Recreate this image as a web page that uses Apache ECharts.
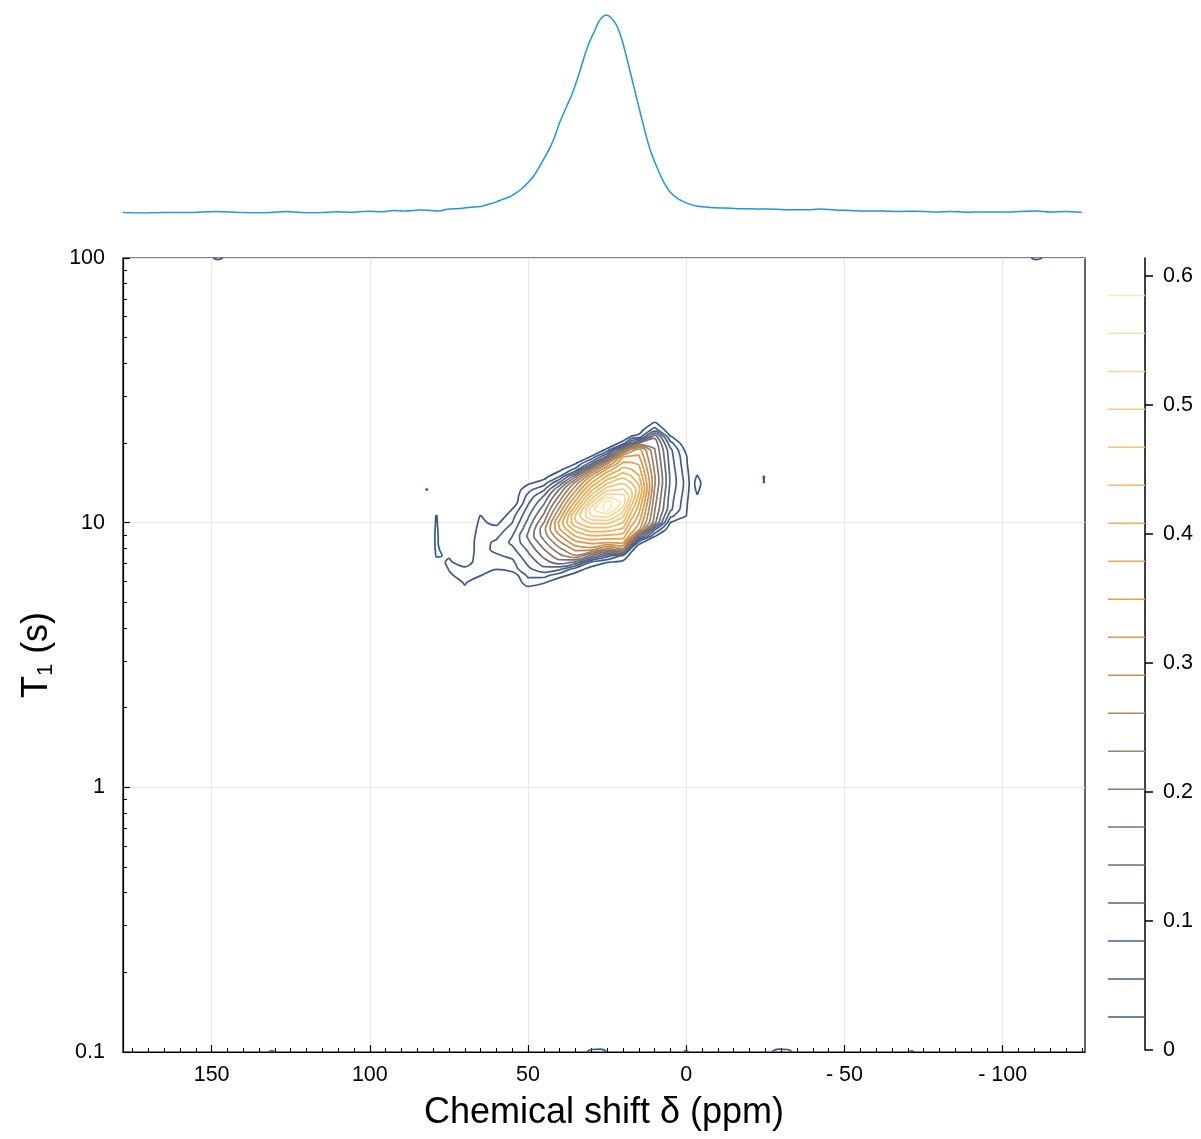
<!DOCTYPE html>
<html>
<head>
<meta charset="utf-8">
<script src="https://cdn.jsdelivr.net/npm/echarts@6/dist/echarts.min.js"></script>
<style>
html,body{margin:0;padding:0;background:#ffffff;}
#chart{width:1201px;height:1139px;}
</style>
</head>
<body>
<div id="chart"></div>
<script>
// ---------------- DATA ----------------
const xMajorTicks = [150, 100, 50, 0, -50, -100];
const xMinorTicks = [175,170,165,160,155,150,145,140,135,130,125,120,115,110,105,100,95,90,85,80,75,70,65,60,55,50,45,40,35,30,25,20,15,10,5,0,-5,-10,-15,-20,-25,-30,-35,-40,-45,-50,-55,-60,-65,-70,-75,-80,-85,-90,-95,-100,-105,-110,-115,-120,-125];
const yMajorTicks = [0.1, 1, 10, 100];
const yMinorTicks = [0.2,0.3,0.4,0.5,0.6,0.7,0.8,0.9,2,3,4,5,6,7,8,9,20,30,40,50,60,70,80,90];
const colorbarTicks = [0, 0.1, 0.2, 0.3, 0.4, 0.5, 0.6];

// contour levels
const contourLevels = [0.0256,0.0550,0.0845,0.1139,0.1434,0.1728,0.2022,0.2317,0.2611,0.2906,0.3200,0.3495,0.3789,0.4083,0.4378,0.4672,0.4967,0.5261,0.5556,0.5850];

// 1D projection (top trace): chemical shift (ppm) and relative intensity
const spectrumPpm = [178.1,172.4,164.8,156.6,148.7,140.8,132.6,126.6,121.9,116.5,110.5,106.1,100.4,96.6,92.5,88.7,84.3,80.8,78.3,75.2,71.4,68.2,65.0,62.2,60.0,58.1,55.9,54.0,52.1,50.2,48.0,46.1,44.5,42.9,41.4,40.1,37.9,36.0,33.8,31.9,30.3,29.0,27.8,26.5,25.3,24.0,22.7,21.8,20.5,18.9,17.4,15.8,14.2,12.9,11.4,9.8,8.2,6.9,5.1,2.8,0,-3.2,-7.6,-12.0,-16.4,-22.4,-28.4,-32.8,-37.6,-42.6,-47.0,-51.8,-56.5,-61.3,-67.6,-72.6,-78.6,-83.4,-88.7,-94.4,-101.0,-105.5,-110.8,-114.9,-119.7,-125.0];
const spectrumIntensity = [0.002,0.000,0.002,0.003,0.008,0.003,0.001,0.008,0.003,0.001,0.006,0.004,0.009,0.006,0.012,0.010,0.015,0.013,0.010,0.020,0.023,0.029,0.033,0.045,0.056,0.069,0.081,0.099,0.121,0.150,0.192,0.242,0.288,0.335,0.394,0.453,0.535,0.605,0.707,0.807,0.875,0.918,0.962,0.990,1.000,0.990,0.965,0.941,0.884,0.789,0.692,0.587,0.485,0.403,0.318,0.251,0.192,0.150,0.106,0.074,0.051,0.035,0.028,0.025,0.022,0.020,0.019,0.016,0.016,0.020,0.015,0.013,0.010,0.010,0.008,0.009,0.005,0.008,0.004,0.005,0.005,0.008,0.010,0.005,0.008,0.004];

// 2D intensity map: one column per chemical shift (ppm); rows at log10(T1 / s)
const gridPpm = [88,85,82,79,75,70,65,60,55,50,45,40,35,30,25,20,17.5,15,10,5,0,-1.5,-3.5,-6,-22,-24.5,-27];
const gridLogT1 = [0.700,0.725,0.750,0.775,0.800,0.825,0.850,0.875,0.900,0.925,0.950,0.975,1.000,1.025,1.050,1.075,1.100,1.125,1.150,1.175,1.200,1.225,1.250,1.275,1.300,1.325,1.350,1.375,1.400,1.425,1.450];
const gridValues = [
  /*88*/  [0,0,0,0,0,0,0,0,0,0, 0,0,0,0,0,0,0,0,0,0, 0,0,0,0,0,0,0,0,0,0, 0],
  /*85*/  [0,0,0,0,0,0,0,0,0,0, 0,0,0,0,0,0,0,0,0,0, 0,0,0,0,0,0,0,0,0,0, 0],
  /*82*/  [0,0,0,0,0,0,0,0,0,0, 0,0,0,0,0,0,0,0.028,0,0, 0,0,0,0,0,0,0,0,0,0, 0],
  /*79*/  [0,0,0,0,0,0,0.020,0.027,0.029,0.030, 0.030,0.029,0.028,0.027,0.015,0,0,0,0,0, 0,0,0,0,0,0,0,0,0,0, 0],
  /*75*/  [0,0,0,0,0.022,0.027,0.028,0.024,0.015,0, 0,0,0,0,0,0,0,0,0,0, 0,0,0,0,0,0,0,0,0,0, 0],
  /*70*/  [0,0,0.020,0.030,0.034,0.029,0.018,0.010,0,0, 0,0,0,0,0,0,0,0,0,0, 0,0,0,0,0,0,0,0,0,0, 0],
  /*65*/  [0,0,0,0,0.026,0.030,0.034,0.038,0.043,0.043, 0.039,0.035,0.031,0.027,0.003,0,0,0,0,0, 0,0,0,0,0,0,0,0,0,0, 0],
  /*60*/  [0,0,0,0,0,0.027,0.038,0.051,0.063,0.061, 0.048,0.036,0.018,0,0,0,0,0,0,0, 0,0,0,0,0,0,0,0,0,0, 0],
  /*55*/  [0,0,0,0,0.004,0.041,0.048,0.062,0.077,0.091, 0.084,0.069,0.055,0.044,0.026,0,0,0,0,0, 0,0,0,0,0,0,0,0,0,0, 0],
  /*50*/  [0,0,0.016,0.042,0.061,0.078,0.092,0.106,0.120,0.135, 0.149,0.137,0.123,0.109,0.095,0.080,0.064,0.045,0.020,0, 0,0,0,0,0,0,0,0,0,0, 0],
  /*45*/  [0,0,0.003,0.030,0.065,0.105,0.130,0.151,0.173,0.194, 0.215,0.223,0.202,0.180,0.159,0.138,0.116,0.080,0.040,0.013, 0,0,0,0,0,0,0,0,0,0, 0],
  /*40*/  [0,0,0,0.007,0.034,0.092,0.159,0.194,0.225,0.256, 0.287,0.318,0.331,0.301,0.270,0.239,0.208,0.177,0.121,0.054, 0.019,0,0,0,0,0,0,0,0,0, 0],
  /*35*/  [0,0,0,0,0.014,0.040,0.137,0.229,0.270,0.311, 0.352,0.393,0.434,0.445,0.404,0.363,0.323,0.282,0.241,0.164, 0.067,0.021,0,0,0,0,0,0,0,0, 0],
  /*30*/  [0,0,0,0,0,0.015,0.045,0.165,0.279,0.329, 0.377,0.426,0.475,0.525,0.546,0.497,0.448,0.399,0.350,0.301, 0.219,0.098,0.027,0.001,0,0,0,0,0,0, 0],
  /*25*/  [0,0,0,0,0,0.001,0.026,0.097,0.225,0.321, 0.373,0.424,0.476,0.535,0.598,0.604,0.545,0.486,0.434,0.383, 0.331,0.251,0.123,0.031,0.006,0,0,0,0,0, 0],
  /*20*/  [0,0,0,0,0,0,0.017,0.049,0.255,0.328, 0.365,0.401,0.438,0.474,0.510,0.547,0.537,0.500,0.464,0.428, 0.391,0.355,0.318,0.196,0.034,0.010,0,0,0,0, 0],
  /*17.5*/[0,0,0,0,0,0,0,0.014,0.038,0.186, 0.308,0.337,0.366,0.395,0.424,0.453,0.482,0.469,0.440,0.411, 0.382,0.353,0.324,0.274,0.117,0.027,0.003,0,0,0, 0],
  /*15*/  [0,0,0,0,0,0,0,0,0.007,0.033, 0.161,0.303,0.323,0.342,0.361,0.381,0.400,0.419,0.401,0.382, 0.363,0.344,0.324,0.305,0.174,0.035,0.009,0,0,0, 0],
  /*10*/  [0,0,0,0,0,0,0,0,0,0.003, 0.028,0.090,0.184,0.197,0.205,0.213,0.221,0.229,0.237,0.235, 0.227,0.220,0.212,0.204,0.196,0.165,0.070,0.030,0.005,0, 0],
  /*5*/   [0,0,0,0,0,0,0,0,0,0, 0,0,0.024,0.062,0.091,0.095,0.099,0.104,0.108,0.108, 0.104,0.100,0.096,0.092,0.066,0.028,0,0,0,0, 0],
  /*0*/   [0,0,0,0,0,0,0,0,0,0, 0,0,0,0.026,0.030,0.034,0.038,0.042,0.044,0.040, 0.036,0.032,0.029,0.016,0,0,0,0,0,0, 0],
  /*-1.5*/[0,0,0,0,0,0,0,0,0,0, 0,0,0,0,0,0,0.008,0.012,0.014,0.012, 0.008,0,0,0,0,0,0,0,0,0, 0],
  /*-3.5*/[0,0,0,0,0,0,0,0,0,0, 0,0,0,0,0,0,0.024,0.031,0.034,0.028, 0.012,0,0,0,0,0,0,0,0,0, 0],
  /*-6*/  [0,0,0,0,0,0,0,0,0,0, 0,0,0,0,0,0,0,0.010,0.015,0, 0,0,0,0,0,0,0,0,0,0, 0],
  /*-22*/ [0,0,0,0,0,0,0,0,0,0, 0,0,0,0,0,0,0,0,0,0, 0,0,0,0,0,0,0,0,0,0, 0],
  /*-24.5*/[0,0,0,0,0,0,0,0,0,0, 0,0,0,0,0,0,0,0,0.027,0.027, 0,0,0,0,0,0,0,0,0,0, 0],
  /*-27*/ [0,0,0,0,0,0,0,0,0,0, 0,0,0,0,0,0,0,0,0,0, 0,0,0,0,0,0,0,0,0,0, 0]
];

// small contour fragments at the T1 = 0.1 s and 100 s edges: [ppm, T1]
const edgeFragments = [
  [[31.5,0.1],[30,0.1022],[27,0.1025],[25,0.1]],
  [[-27,0.1],[-29,0.1025],[-32,0.1022],[-33.5,0.1]],
  [[132,0.1],[131,0.101],[130,0.1]],
  [[0.8,0.1],[0,0.1012],[-0.8,0.1]],
  [[-70.5,0.1],[-71.2,0.101],[-72,0.1]],
  [[149.5,100],[148,98.6],[146.5,100]],
  [[-109,100],[-110.5,98.6],[-112.5,100]]
];

// ---------------- STYLE ----------------
const FONT = '"Liberation Sans", Arial, Helvetica, sans-serif';
const TEXT = '#000000';
const cmapStops = [
  [0.00,'#3a5a8c'],[0.10,'#465f8a'],[0.18,'#5d6680'],[0.26,'#787070'],
  [0.34,'#957b66'],[0.42,'#b5875a'],[0.50,'#d7944a'],[0.58,'#eb9f45'],
  [0.68,'#f1b058'],[0.78,'#f5c274'],[0.88,'#f8d48f'],[1.00,'#fce9b4']
];
function hex2rgb(h){return [parseInt(h.slice(1,3),16),parseInt(h.slice(3,5),16),parseInt(h.slice(5,7),16)];}
function cmap(t){
  for(let i=0;i<cmapStops.length-1;i++){
    const a=cmapStops[i], b=cmapStops[i+1];
    if(t<=b[0]){
      const f=(t-a[0])/(b[0]-a[0]);
      const ca=hex2rgb(a[1]), cb=hex2rgb(b[1]);
      const c=ca.map((v,k)=>Math.round(v+(cb[k]-v)*f));
      return 'rgb('+c.join(',')+')';
    }
  }
  return cmapStops[cmapStops.length-1][1];
}
const levelColors = contourLevels.map((_,k)=>cmap(k/(contourLevels.length-1)));

// ---------------- CONTOURING (marching squares on the grid above) ----------------
function contourLines(level){
  const nx=gridPpm.length, ny=gridLogT1.length;
  const pts={}, adj={};
  function ep(key,xa,ya,va,xb,yb,vb){
    if(!pts[key]){const t=(level-va)/(vb-va); pts[key]=[xa+t*(xb-xa), ya+t*(yb-ya)];}
    return key;
  }
  function link(a,b){(adj[a]=adj[a]||[]).push(b);(adj[b]=adj[b]||[]).push(a);}
  for(let i=0;i<nx-1;i++){
    for(let j=0;j<ny-1;j++){
      const v0=gridValues[i][j], v1=gridValues[i+1][j], v2=gridValues[i+1][j+1], v3=gridValues[i][j+1];
      const code=(v0>level?1:0)|(v1>level?2:0)|(v2>level?4:0)|(v3>level?8:0);
      if(code===0||code===15) continue;
      const x0=gridPpm[i], x1=gridPpm[i+1], y0=gridLogT1[j], y1=gridLogT1[j+1];
      const E={
        B:()=>ep('h'+i+'_'+j,x0,y0,v0,x1,y0,v1),
        R:()=>ep('v'+(i+1)+'_'+j,x1,y0,v1,x1,y1,v2),
        T:()=>ep('h'+i+'_'+(j+1),x0,y1,v3,x1,y1,v2),
        L:()=>ep('v'+i+'_'+j,x0,y0,v0,x0,y1,v3)
      };
      const center=(v0+v1+v2+v3)/4;
      let segs;
      switch(code){
        case 1: segs=[['L','B']]; break;
        case 2: segs=[['B','R']]; break;
        case 3: segs=[['L','R']]; break;
        case 4: segs=[['R','T']]; break;
        case 5: segs=center>level?[['L','T'],['B','R']]:[['L','B'],['R','T']]; break;
        case 6: segs=[['B','T']]; break;
        case 7: segs=[['L','T']]; break;
        case 8: segs=[['T','L']]; break;
        case 9: segs=[['B','T']]; break;
        case 10: segs=center>level?[['L','B'],['R','T']]:[['B','R'],['T','L']]; break;
        case 11: segs=[['R','T']]; break;
        case 12: segs=[['L','R']]; break;
        case 13: segs=[['B','R']]; break;
        case 14: segs=[['L','B']]; break;
      }
      segs.forEach(s=>link(E[s[0]](),E[s[1]]()));
    }
  }
  const visited=new Set(), lines=[];
  function walk(start){
    const line=[start]; visited.add(start); let cur=start;
    for(;;){
      const nexts=adj[cur].filter(k=>!visited.has(k));
      if(!nexts.length){ if(adj[cur].indexOf(start)>=0 && line.length>2) line.push(start); break; }
      cur=nexts[0]; visited.add(cur); line.push(cur);
    }
    return line.map(k=>[pts[k][0], Math.pow(10, pts[k][1])]);
  }
  Object.keys(adj).forEach(k=>{ if(adj[k].length===1 && !visited.has(k)) lines.push(walk(k)); });
  Object.keys(adj).forEach(k=>{ if(!visited.has(k)) lines.push(walk(k)); });
  return lines;
}

// ---------------- SERIES ----------------
const series = [];
contourLevels.forEach((lvl,k)=>{
  contourLines(lvl).forEach(poly=>{
    series.push({
      type:'line', xAxisIndex:0, yAxisIndex:0, data:poly, showSymbol:false, symbol:'none',
      smooth:0.3, silent:true, z:10+k, clip:true,
      lineStyle:{color:levelColors[k], width:1.7}
    });
  });
});
edgeFragments.forEach(f=>{
  series.push({type:'line', xAxisIndex:0, yAxisIndex:0, data:f, showSymbol:false, symbol:'none',
    smooth:0.5, silent:true, z:10, clip:true, lineStyle:{color:levelColors[0], width:1.6}});
});
series.push({
  type:'line', xAxisIndex:2, yAxisIndex:2, showSymbol:false, symbol:'none', smooth:0.25, silent:true,
  data: spectrumPpm.map((p,i)=>[p, spectrumIntensity[i]]),
  lineStyle:{color:'#1a96ea', width:1.5}
});
contourLevels.forEach((lvl,k)=>{
  series.push({type:'line', xAxisIndex:3, yAxisIndex:3, showSymbol:false, symbol:'none', silent:true,
    data:[[0,lvl],[1,lvl]], lineStyle:{color:levelColors[k], width:1.5}});
});

// ---------------- OPTION ----------------
const fmtX = v => { v=+v; return v<0 ? '- '+Math.abs(v) : String(v); };
const fmtY = v => String(+(+v).toPrecision(2));
const option = {
  animation:false,
  backgroundColor:'#ffffff',
  textStyle:{fontFamily:FONT},
  grid:[
    {left:123, top:258, width:962, height:794, show:true, borderColor:'#000', borderWidth:1.2, backgroundColor:'transparent'},
    {left:123, top:15, width:962, height:198},
    {left:1108, top:258, width:37, height:792}
  ],
  xAxis:[
    {gridIndex:0, type:'value', inverse:true, min:-126, max:178, position:'bottom',
     axisLine:{show:true, onZero:false, lineStyle:{color:'#000', width:1.2}},
     axisTick:{show:true, inside:true, length:7, customValues:xMajorTicks, lineStyle:{color:'#000', width:1.2}},
     axisLabel:{show:true, customValues:xMajorTicks, formatter:fmtX, fontSize:21.5, color:TEXT, margin:12, fontFamily:FONT},
     splitLine:{show:true, lineStyle:{color:'#e6e6e6', width:1}},
     name:'Chemical shift δ (ppm)', nameLocation:'middle', nameGap:43,
     nameTextStyle:{fontSize:36, color:TEXT, fontFamily:FONT}},
    {gridIndex:0, type:'value', inverse:true, min:-126, max:178, position:'bottom',
     axisLine:{show:false, onZero:false}, axisLabel:{show:false}, splitLine:{show:false},
     axisTick:{show:true, inside:true, length:4, customValues:xMinorTicks, lineStyle:{color:'#000', width:1}}},
    {gridIndex:1, type:'value', inverse:true, min:-126, max:178, show:false},
    {gridIndex:2, type:'value', min:0, max:1, show:false}
  ],
  yAxis:[
    {gridIndex:0, type:'log', logBase:10, min:0.1, max:100, position:'left',
     axisLine:{show:true, onZero:false, lineStyle:{color:'#000', width:1.2}},
     axisTick:{show:true, inside:true, length:7, customValues:yMajorTicks, lineStyle:{color:'#000', width:1.2}},
     axisLabel:{show:true, customValues:yMajorTicks, formatter:fmtY, fontSize:21.5, color:TEXT, margin:18, fontFamily:FONT},
     splitLine:{show:true, lineStyle:{color:'#e6e6e6', width:1}},
     name:'{a|T}{b|1}{a| (s)}', nameLocation:'middle', nameGap:66, nameRotate:90,
     nameTextStyle:{color:TEXT, fontFamily:FONT, rich:{
       a:{fontSize:36, fontFamily:FONT, color:TEXT, lineHeight:40},
       b:{fontSize:22, fontFamily:FONT, color:TEXT, lineHeight:22, verticalAlign:'bottom'}
     }}},
    {gridIndex:0, type:'log', logBase:10, min:0.1, max:100, position:'left',
     axisLine:{show:false, onZero:false}, axisLabel:{show:false}, splitLine:{show:false},
     axisTick:{show:true, inside:true, length:4, customValues:yMinorTicks, lineStyle:{color:'#000', width:1}}},
    {gridIndex:1, type:'value', min:0, max:1, show:false},
    {gridIndex:2, type:'value', min:0, max:0.614, position:'right',
     axisLine:{show:true, onZero:false, lineStyle:{color:'#000', width:1.5}},
     axisTick:{show:true, inside:false, length:8, customValues:colorbarTicks, lineStyle:{color:'#000', width:1.5}},
     axisLabel:{show:true, customValues:colorbarTicks, formatter:v=>String(+(+v).toFixed(1)), fontSize:21.5, color:TEXT, margin:18, fontFamily:FONT},
     splitLine:{show:false}}
  ],
  series: series
};
const chart = echarts.init(document.getElementById('chart'), null, {renderer:'canvas'});
chart.setOption(option);
</script>
</body>
</html>
